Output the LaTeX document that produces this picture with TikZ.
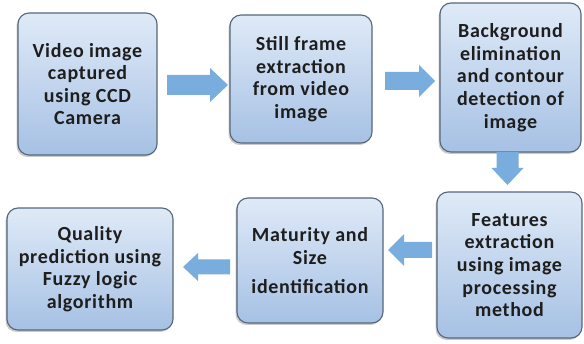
\documentclass[tikz,border=0pt]{standalone}
\usepackage{fontspec}
\setmainfont{Carlito}[LetterSpace=3.5]
\usetikzlibrary{shadows,calc}
\definecolor{boxtop}{HTML}{DFEAF7}
\definecolor{boxbot}{HTML}{A6C1E4}
\definecolor{boxline}{HTML}{56677C}
\definecolor{arrowfill}{HTML}{79ADDD}
\definecolor{textcol}{HTML}{1E1E1E}
\tikzset{
  stepbox/.style={rectangle, rounded corners=11pt, draw=boxline, line width=1.1pt,
    top color=boxtop, bottom color=boxbot, align=center, inner sep=2pt,
    font=\fontsize{20}{22.6}\selectfont\bfseries, text=textcol,
    drop shadow={shadow xshift=-1.5pt, shadow yshift=-2pt, opacity=0.35, fill=black!60}},
  pics/fatarrow/.style args={#1/#2/#3/#4}{code={
    \fill[arrowfill] (-#1/2,-#2) -- (#1/2-#4,-#2) -- (#1/2-#4,-#3) -- (#1/2,0)
      -- (#1/2-#4,#3) -- (#1/2-#4,#2) -- (-#1/2,#2) -- cycle;}}
}
\begin{document}
\begin{tikzpicture}[x=1pt,y=-1pt]
\useasboundingbox[fill=white] (0,0) rectangle (584,344);
\node[stepbox, minimum width=139pt, minimum height=142pt] (b1) at (87.5,84)
  {Video image\\captured\\using CCD\\Camera};
\node[stepbox, minimum width=142pt, minimum height=128pt] (b2) at (301,79)
  {Still frame\\extraction\\from video\\image};
\node[stepbox, minimum width=141pt, minimum height=149pt] (b3) at (510.5,77.5)
  {Background\\elimination\\and contour\\detection of\\image};
\node[stepbox, minimum width=145pt, minimum height=146pt] (b4) at (509.5,265)
  {Features\\extraction\\using image\\processing\\method};
\node[stepbox, minimum width=146pt, minimum height=125pt] (b5) at (310,260.5)
  {Maturity and\\Size\\[6pt]identification};
\node[stepbox, minimum width=166pt, minimum height=122pt] (b6) at (90,269)
  {Quality\\prediction using\\Fuzzy logic\\algorithm};
% fat arrows between the boxes
\pic at (197.5,85) {fatarrow={61/10/17/18}};
\pic at (410,81) {fatarrow={50/9/16/16}};
\pic[rotate=-90] at (507.5,168.5) {fatarrow={33/11/16/17}};
\pic[rotate=180] at (410,250) {fatarrow={44/8/16/16}};
\pic[rotate=180] at (206.5,267) {fatarrow={47/7.5/14/15}};
\end{tikzpicture}
\end{document}
